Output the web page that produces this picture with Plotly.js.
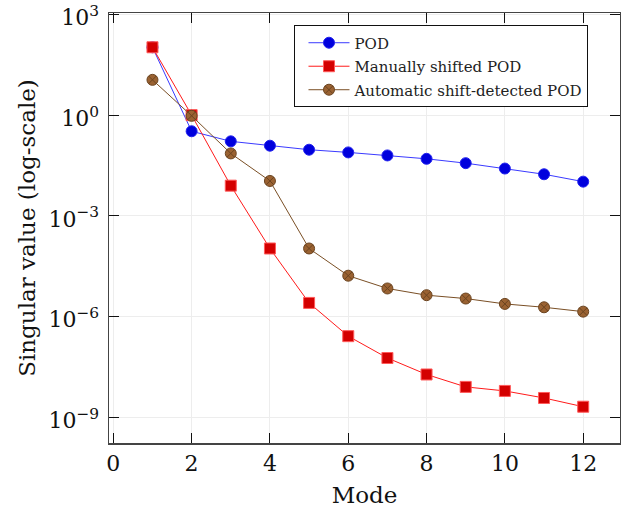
<!DOCTYPE html>
<html>
<head>
<meta charset="utf-8">
<script src="https://cdn.plot.ly/plotly-3.0.1.min.js"></script>
<style>html,body{margin:0;padding:0;background:#fff;}#chart{width:621px;height:509px;}</style>
</head>
<body>
<div id="chart"></div>
<script>
const modes = [1,2,3,4,5,6,7,8,9,10,11,12];
// log10 of singular values
const podLog =    [2.02, -0.48, -0.78, -0.91, -1.03, -1.11, -1.20, -1.30, -1.43, -1.59, -1.76, -1.98];
const manualLog = [2.02,  0.00, -2.10, -3.97, -5.59, -6.58, -7.23, -7.72, -8.09, -8.21, -8.42, -8.68];
const autoLog =   [1.05, -0.02, -1.14, -1.96, -3.97, -4.78, -5.16, -5.36, -5.46, -5.62, -5.72, -5.85];
const seriesNames = ["POD", "Manually shifted POD", "Automatic shift-detected POD"];
const xTicks = [0,2,4,6,8,10,12];
const yTickVals = [1e-9, 1e-6, 1e-3, 1, 1e3];
const yTickText = ["10<sup>−9</sup>", "10<sup>−6</sup>", "10<sup>−3</sup>", "10<sup>0</sup>", "10<sup>3</sup>"];

const toVal = a => a.map(v => Math.pow(10, v));
const serif = "'DejaVu Serif', 'Liberation Serif', serif";

const traces = [
  {x: modes, y: toVal(podLog), name: seriesNames[0], mode: "lines+markers", legendgroup: "g1",
   line: {color: "#3a3aff", width: 1},
   marker: {symbol: "circle", size: 11, color: "#0000dd", line: {color: "#2222ee", width: 1}}},
  {x: modes, y: toVal(manualLog), name: seriesNames[1], mode: "lines+markers", legendgroup: "g2",
   line: {color: "#ff1a1a", width: 1},
   marker: {symbol: "square", size: 11, color: "#d40000", line: {color: "#ff5a5a", width: 1}}},
  {x: modes, y: toVal(autoLog), name: seriesNames[2], mode: "lines+markers", legendgroup: "g3",
   line: {color: "#7a4f25", width: 1},
   marker: {symbol: "circle-x", size: 11, color: "#9a6232", line: {color: "#6b4420", width: 1}}}
];

const layout = {
  width: 621, height: 509,
  margin: {l: 109, r: 1, t: 13, b: 66},
  paper_bgcolor: "#fff", plot_bgcolor: "#fff",
  font: {family: serif, color: "#111", size: 20},
  showlegend: true,
  legend: {x: 0.363, y: 0.971, xanchor: "left", yanchor: "top",
    bgcolor: "#fff", bordercolor: "#111", borderwidth: 1,
    tracegroupgap: 1, indentation: 8, itemwidth: 41,
    font: {family: serif, size: 15, color: "#222"}},
  xaxis: {
    range: [-0.11, 12.94], tickvals: xTicks, ticktext: xTicks.map(String),
    ticks: "inside", ticklen: 10, tickcolor: "#111", tickwidth: 1,
    showline: true, linecolor: "#444", linewidth: 1.5, mirror: "ticks",
    showgrid: true, gridcolor: "#ededed", gridwidth: 1, zeroline: false,
    ticklabeloverflow: "allow",
    tickfont: {family: serif, size: 22},
    title: {text: "Mode", font: {family: serif, size: 23}, standoff: 12}
  },
  yaxis: {
    type: "log", range: [-9.76, 3.04],
    tickvals: yTickVals, ticktext: yTickText,
    ticks: "inside", ticklen: 10, tickcolor: "#111", tickwidth: 1,
    showline: true, linecolor: "#444", linewidth: 1.5, mirror: "ticks",
    showgrid: true, gridcolor: "#ededed", gridwidth: 1, zeroline: false,
    ticklabeloverflow: "allow",
    tickfont: {family: serif, size: 22},
    ticklabelstandoff: 4, ticklabelshift: 3,
    title: {text: "Singular value (log-scale)", font: {family: serif, size: 23}, standoff: 6}
  }
};

Plotly.newPlot("chart", traces, layout, {displayModeBar: false, staticPlot: true});
</script>
</body>
</html>
